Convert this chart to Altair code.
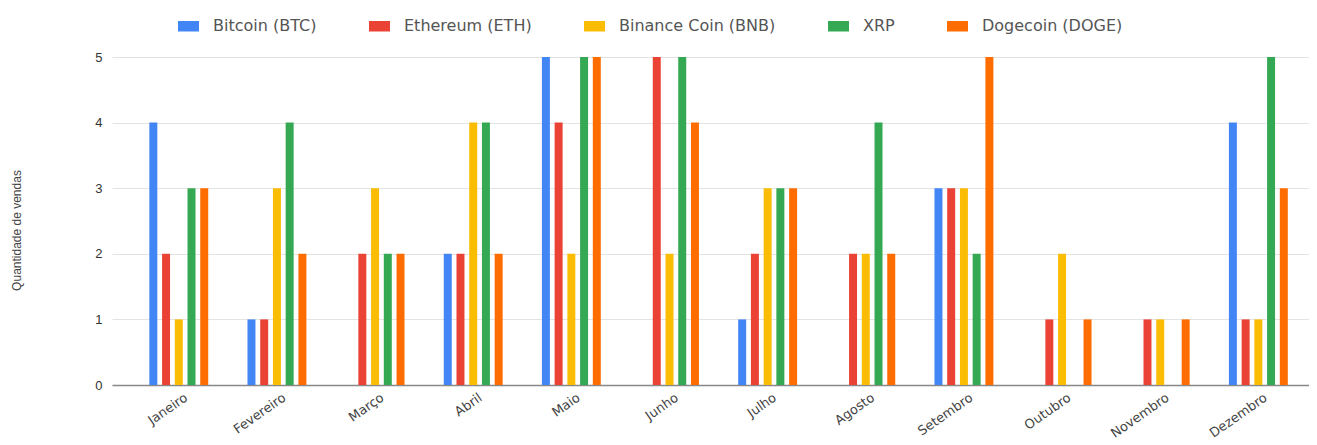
import altair as alt
import pandas as pd

meses = ["Janeiro", "Fevereiro", "Março", "Abril", "Maio", "Junho",
         "Julho", "Agosto", "Setembro", "Outubro", "Novembro", "Dezembro"]
moedas = ["Bitcoin (BTC)", "Ethereum (ETH)", "Binance Coin (BNB)", "XRP", "Dogecoin (DOGE)"]
btc = [4, 1, 0, 2, 5, 0, 1, 0, 3, 0, 0, 4]
eth = [2, 1, 2, 2, 4, 5, 2, 2, 3, 1, 1, 1]
bnb = [1, 3, 3, 4, 2, 2, 3, 2, 3, 2, 1, 1]
xrp = [3, 4, 2, 4, 5, 5, 3, 4, 2, 0, 0, 5]
doge = [3, 2, 2, 2, 5, 4, 3, 2, 5, 1, 1, 3]
cores = ["#4285F4", "#EA4335", "#FBBC04", "#34A853", "#FF6D01"]
y_ticks = [0, 1, 2, 3, 4, 5]

series = [btc, eth, bnb, xrp, doge]
rows = []
for moeda, vals in zip(moedas, series):
    for mes, v in zip(meses, vals):
        rows.append({"Mes": mes, "Moeda": moeda, "Vendas": v})
df = pd.DataFrame(rows)

chart = alt.Chart(df).mark_bar().encode(
    x=alt.X("Mes:N", sort=meses, title=None,
            scale=alt.Scale(paddingInner=0.3515, paddingOuter=0.274, align=0.65),
            axis=alt.Axis(labelAngle=-35, labelAlign="right", labelBaseline="top",
                          labelPadding=6, labelOffset=4, ticks=False,
                          domainColor="#888888", domainWidth=1.5,
                          labelFont="DejaVu Sans", labelFontSize=13, labelColor="#444444",
                          grid=False)),
    xOffset=alt.XOffset("Moeda:N", sort=moedas,
                        scale=alt.Scale(paddingInner=0.373, paddingOuter=0.1865)),
    y=alt.Y("Vendas:Q", scale=alt.Scale(domain=[0, 5]),
            axis=alt.Axis(title="Quantidade de vendas", values=y_ticks, ticks=False,
                          domain=False, labelPadding=10, titlePadding=71,
                          gridColor="#e3e3e3", labelFont="Liberation Sans",
                          labelFontSize=13, labelColor="#333333",
                          titleFont="Liberation Sans", titleFontSize=12,
                          titleFontWeight="normal", titleColor="#444444", titleY=173)),
    color=alt.Color("Moeda:N", sort=moedas,
                    scale=alt.Scale(domain=moedas, range=cores),
                    legend=alt.Legend(title=None, orient="none", legendX=66, legendY=-41.5,
                                      direction="horizontal",
                                      symbolType="M-1,-0.5H1V0.5H-1Z", symbolSize=441,
                                      symbolStrokeWidth=0,
                                      labelFont="DejaVu Sans", labelFontSize=16,
                                      labelColor="#555555", labelOffset=14,
                                      columnPadding=52)),
).properties(
    width=1197, height=328,
    padding={"left": 2, "top": 7, "right": 0, "bottom": 0},
).configure_view(stroke=None)

chart.save("out.html", embed_options={"renderer": "svg", "actions": False})
